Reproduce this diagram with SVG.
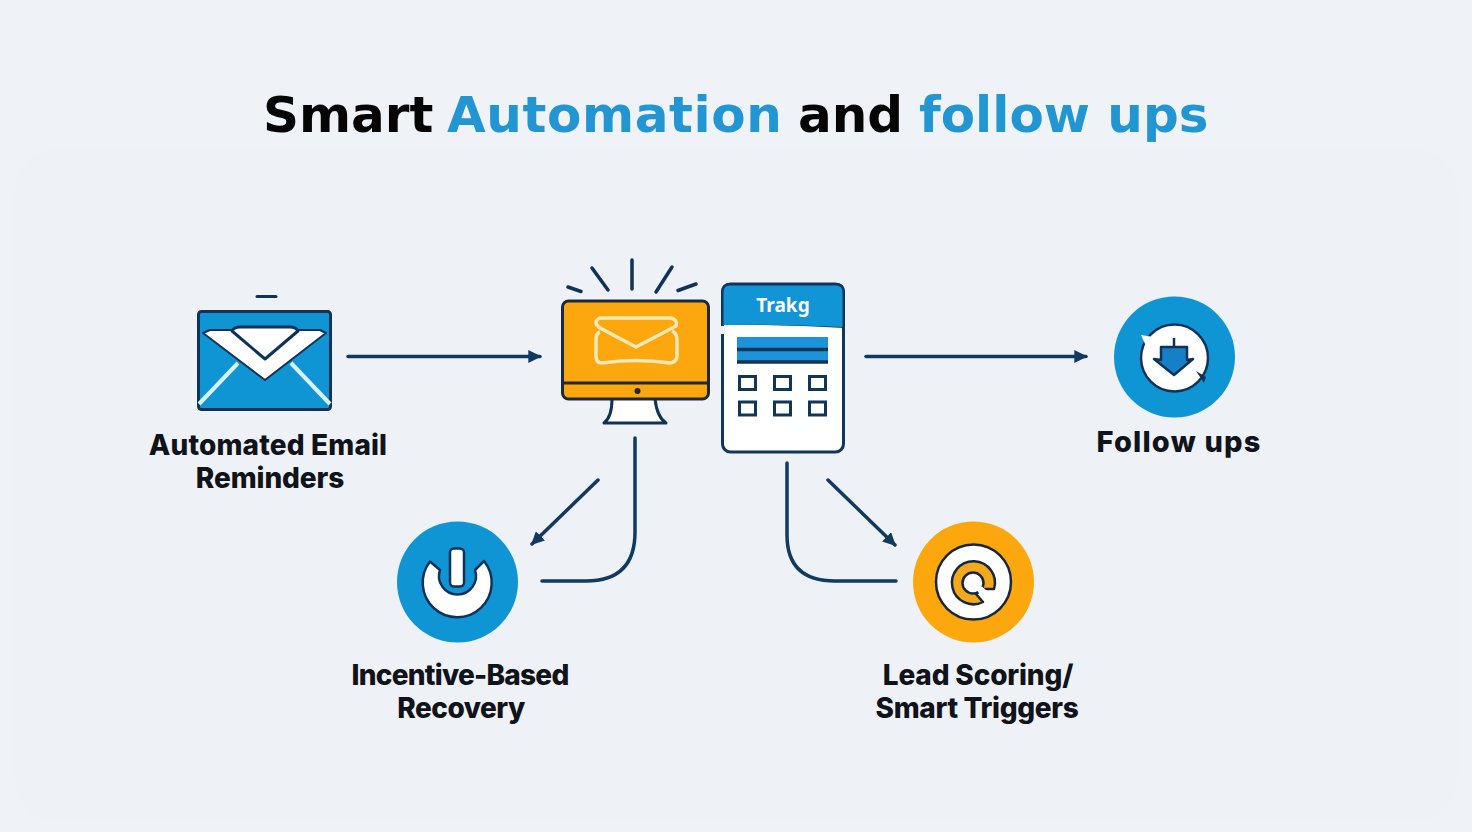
<svg xmlns="http://www.w3.org/2000/svg" width="1472" height="832" viewBox="0 0 1472 832">
<style>
.t{font-family:"Inter","Liberation Sans",sans-serif;font-weight:800;fill:#10131a;text-anchor:middle;font-size:28px}
.h{font-family:"DejaVu Sans","Liberation Sans",sans-serif;font-weight:700;font-size:50px;fill:#050505}
.b{fill:#2196d3}
.n{stroke:#0f3358;fill:none;stroke-linecap:round;stroke-linejoin:round}
.c{stroke:#103a60;stroke-width:3.500;fill:none;stroke-linecap:round}
.sq{fill:#fff;stroke:#12355a;stroke-width:3}
</style>
<defs>
<marker id="a" viewBox="0 0 10 10" refX="9" refY="5" markerWidth="13" markerHeight="13" markerUnits="userSpaceOnUse" orient="auto"><path d="M0 0L10 5L0 10z" fill="#103a60"/></marker>
</defs>
<rect width="1472" height="832" fill="#eff3f7"/>
<rect x="15" y="150" width="1442" height="670" rx="40" fill="#eef2f6"/>
<text id="title" class="h" y="132"><tspan x="263">Smart</tspan><tspan x="447" class="b" letter-spacing="0.6">Automation</tspan><tspan x="798">and</tspan><tspan x="919" class="b">follow ups</tspan></text>

<g id="connectors">
<path class="c" d="M348 356.500H540" marker-end="url(#a)"/>
<path class="c" d="M866 356.500H1086" marker-end="url(#a)"/>
<path class="c" d="M598 480L532 544" marker-end="url(#a)"/>
<path class="c" d="M635 438V532Q635 581 586 581H542"/>
<path class="c" d="M828 480L895 545" marker-end="url(#a)"/>
<path class="c" d="M787 463V535Q787 581 835 581H896"/>
</g>

<g id="node-email">
<path d="M257 296.500H276" class="n" stroke-width="3"/>
<rect x="198.500" y="311.500" width="132" height="98" rx="3" fill="#0f95d4" stroke="#0f3358" stroke-width="3"/>
<path d="M199 404L238 363M330 404L291 363" stroke="#d8f3fb" stroke-width="4" fill="none"/>
<path d="M203 333L210 330H231L265 357L299 330H320L326 333L265 380Z" fill="#fff" stroke="#0f3358" stroke-width="2" stroke-linejoin="round"/>
<path d="M232 331Q234 327 240 327H290Q296 327 298 331L265 359Z" fill="#fff" stroke="#0f3358" stroke-width="3" stroke-linejoin="round"/>
<text class="t" x="268" y="455" letter-spacing="0.15">Automated Email<tspan x="270" dy="33" letter-spacing="-0.1">Reminders</tspan></text>
</g>

<g id="node-monitor">
<path class="n" stroke-width="3.500" d="M568 287L581 291.500M592 268L608 290M632 260V289M672 267L656 292M696 284L678 290.500"/>
<path d="M612 399H655L661 423H608Z" fill="#fff"/>
<path class="n" stroke-width="3" d="M612 399Q612 417 604 423H666Q657 417 655 399"/>
<rect x="562.500" y="301" width="146" height="98" rx="6" fill="#fca70e" stroke="#1a2a3c" stroke-width="3"/>
<path d="M563 383H708" stroke="#1a2a3c" stroke-width="3"/>
<circle cx="637.500" cy="391" r="3" fill="#1a2a3c"/>
<g fill="none" stroke="#fde9b5" stroke-width="3.500" stroke-linejoin="round">
<path d="M600 318H671Q678 320 676 326L636 347L600 328Q592 322 600 318Z"/>
<path d="M600 332Q596 333 596 340V356Q596 363 602 363Q636 358 670 363Q677 362 677 356V340Q677 333 672 331"/>
</g>
</g>

<g id="node-trakg">
<rect x="722.500" y="284" width="121" height="168" rx="8" fill="#fff" stroke="#12355a" stroke-width="3"/>
<path d="M721 325V292Q721 283 730 283H836Q845 283 845 292V328Q783 324 721 325Z" fill="#12355a"/>
<path d="M723.500 325V292Q723.500 285.500 730 285.500H836Q842.500 285.500 842.500 292V327Q783 324 723.500 325Z" fill="#1295d6"/>
<path d="M720 326H725V334H720Z" fill="#eef2f6"/>
<text x="783" y="312" font-family="'Noto Sans','Liberation Sans',sans-serif" font-weight="700" font-size="19" fill="#fff" text-anchor="middle">Trakg</text>
<rect x="737" y="337" width="91" height="26" fill="#1d93d9"/>
<path d="M737 349.500H828M737 362H828" stroke="#12355a" stroke-width="3.500"/>
<rect class="sq" x="739.500" y="376.500" width="16" height="13"/><rect class="sq" x="774.500" y="376.500" width="16" height="13"/><rect class="sq" x="809.500" y="376.500" width="16" height="13"/>
<rect class="sq" x="739.500" y="402" width="16" height="13"/><rect class="sq" x="774.500" y="402" width="16" height="13"/><rect class="sq" x="809.500" y="402" width="16" height="13"/>
</g>

<g id="node-followups">
<circle cx="1174.500" cy="357" r="60.500" fill="#0f95d4"/>
<circle cx="1174.500" cy="358" r="33.500" fill="#fff" stroke="#0f3358" stroke-width="2.500"/>
<path d="M1141 335L1153 337L1146 346Z" fill="#fff"/>
<path d="M1174 338V347H1187V360L1193 359L1174 375L1154 359L1161 360V347H1174" fill="#1580c8" stroke="#0f3358" stroke-width="2.500" stroke-linejoin="round"/>
<path d="M1196 371L1204 383L1206 377Z" fill="#0f3358"/>
<text class="t" style="font-size:29px;font-weight:800" x="1179" y="452" letter-spacing="1.2">Follow ups</text>
</g>

<g id="node-incentive">
<circle cx="457.500" cy="582" r="60.500" fill="#0f95d4"/>
<path d="M430 561.500L440 570A18.500 18.500 0 1 0 475 570L484 561A34.500 34.500 0 1 1 430 561.500Z" fill="#fff" stroke="#0f3358" stroke-width="2.500" stroke-linejoin="round"/>
<rect x="450" y="548.500" width="14" height="38" rx="4" fill="#fff" stroke="#0f3358" stroke-width="2.500"/>
<text class="t" x="460" y="685" letter-spacing="-0.75">Incentive-Based<tspan x="461" dy="33" letter-spacing="-0.5">Recovery</tspan></text>
</g>

<g id="node-lead">
<circle cx="973.500" cy="582" r="60.500" fill="#fca70e"/>
<circle cx="973.500" cy="582" r="37.500" fill="#fff" stroke="#17283a" stroke-width="2.500"/>
<path d="M983 602A21.500 21.500 0 1 1 994 589L982 589L976 594Z" fill="#f4a91a" stroke="#17283a" stroke-width="2.500" stroke-linejoin="round"/>
<circle cx="973" cy="583" r="10.500" fill="#fff" stroke="#17283a" stroke-width="2.500"/>
<path d="M977 590L982 586.500L988 592L982 598Z" fill="#fff"/>
<text class="t" x="978" y="685" letter-spacing="-0.15">Lead Scoring/<tspan x="977" dy="33" letter-spacing="-0.35">Smart Triggers</tspan></text>
</g>
</svg>
